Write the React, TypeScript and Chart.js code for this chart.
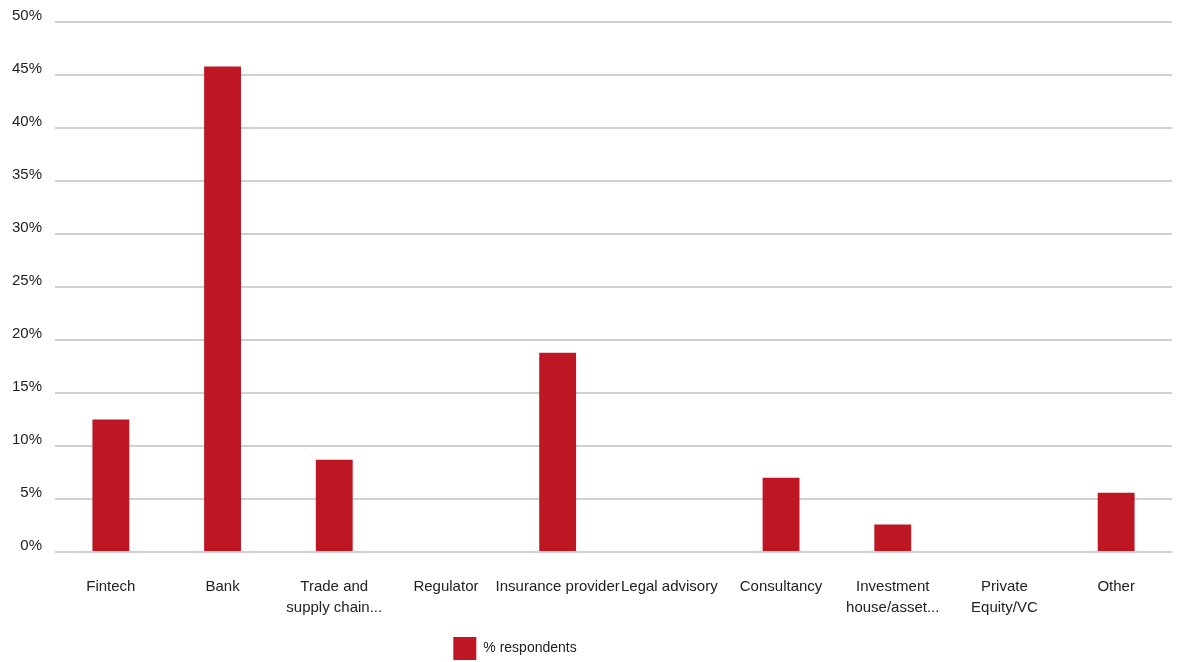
import React, { useEffect, useRef } from "react";
import { Chart, registerables } from "chart.js";

Chart.register(...registerables);

const categories: (string | string[])[] = [
  "Fintech",
  "Bank",
  ["Trade and", "supply chain..."],
  "Regulator",
  "Insurance provider",
  "Legal advisory",
  "Consultancy",
  ["Investment", "house/asset..."],
  ["Private", "Equity/VC"],
  "Other",
];
const respondents: number[] = [12.5, 45.8, 8.7, 0, 18.8, 0, 7.0, 2.6, 0, 5.6];
const seriesName = "% respondents";
const yTicksMax = 50;
const yTicksStep = 5;

const FONT = "'Liberation Sans Narrow', 'Arial Narrow', 'Liberation Sans', Arial, sans-serif";
const RED = "#BE1723";

const legendShift = {
  id: "legendShift",
  afterLayout(chart: any) {
    const lg = chart.legend;
    if (lg) {
      lg.left -= 71;
      lg.right -= 71;
      lg.top += 8;
      lg.bottom += 8;
    }
  },
};

export default function App() {
  const ref = useRef<HTMLCanvasElement | null>(null);
  useEffect(() => {
    document.body.style.margin = "0";
    const ctx = ref.current!;
    const chart = new Chart(ctx, {
      type: "bar",
      data: {
        labels: categories,
        datasets: [
          {
            label: seriesName,
            data: respondents,
            backgroundColor: RED,
            borderWidth: 0,
            barPercentage: 0.33,
            categoryPercentage: 1,
          },
        ],
      },
      plugins: [legendShift],
      options: {
        responsive: false,
        animation: false,
        maintainAspectRatio: false,
        layout: { padding: { top: 15, right: 5, left: 0, bottom: 0 } },
        plugins: {
          tooltip: { enabled: false },
          legend: {
            position: "bottom",
            labels: {
              boxWidth: 23,
              boxHeight: 23,
              padding: 2,
              color: "#222",
              font: { family: FONT, size: 14 },
            },
          },
        },
        scales: {
          x: {
            grid: { display: false, drawTicks: false },
            border: { display: false },
            ticks: {
              color: "#222",
              font: { family: FONT, size: 15, lineHeight: 1.35 },
              padding: 25,
              maxRotation: 0,
              autoSkip: false,
            },
            afterFit: (s: any) => {
              s.height = 75;
            },
          },
          y: {
            min: 0,
            max: yTicksMax,
            grid: { color: "#d0d0d0", lineWidth: 2, drawTicks: false },
            border: { display: false },
            ticks: {
              stepSize: yTicksStep,
              color: "#222",
              font: { family: FONT, size: 15 },
              padding: 13,
              labelOffset: -6,
              callback: (v: any) => v + "%",
            },
            afterFit: (s: any) => {
              s.width = 55;
            },
          },
        },
      },
    });
    return () => chart.destroy();
  }, []);
  return (
    <div style={{ width: 1177, height: 662 }}>
      <canvas ref={ref} width={1177} height={662} style={{ display: "block" }} />
    </div>
  );
}
